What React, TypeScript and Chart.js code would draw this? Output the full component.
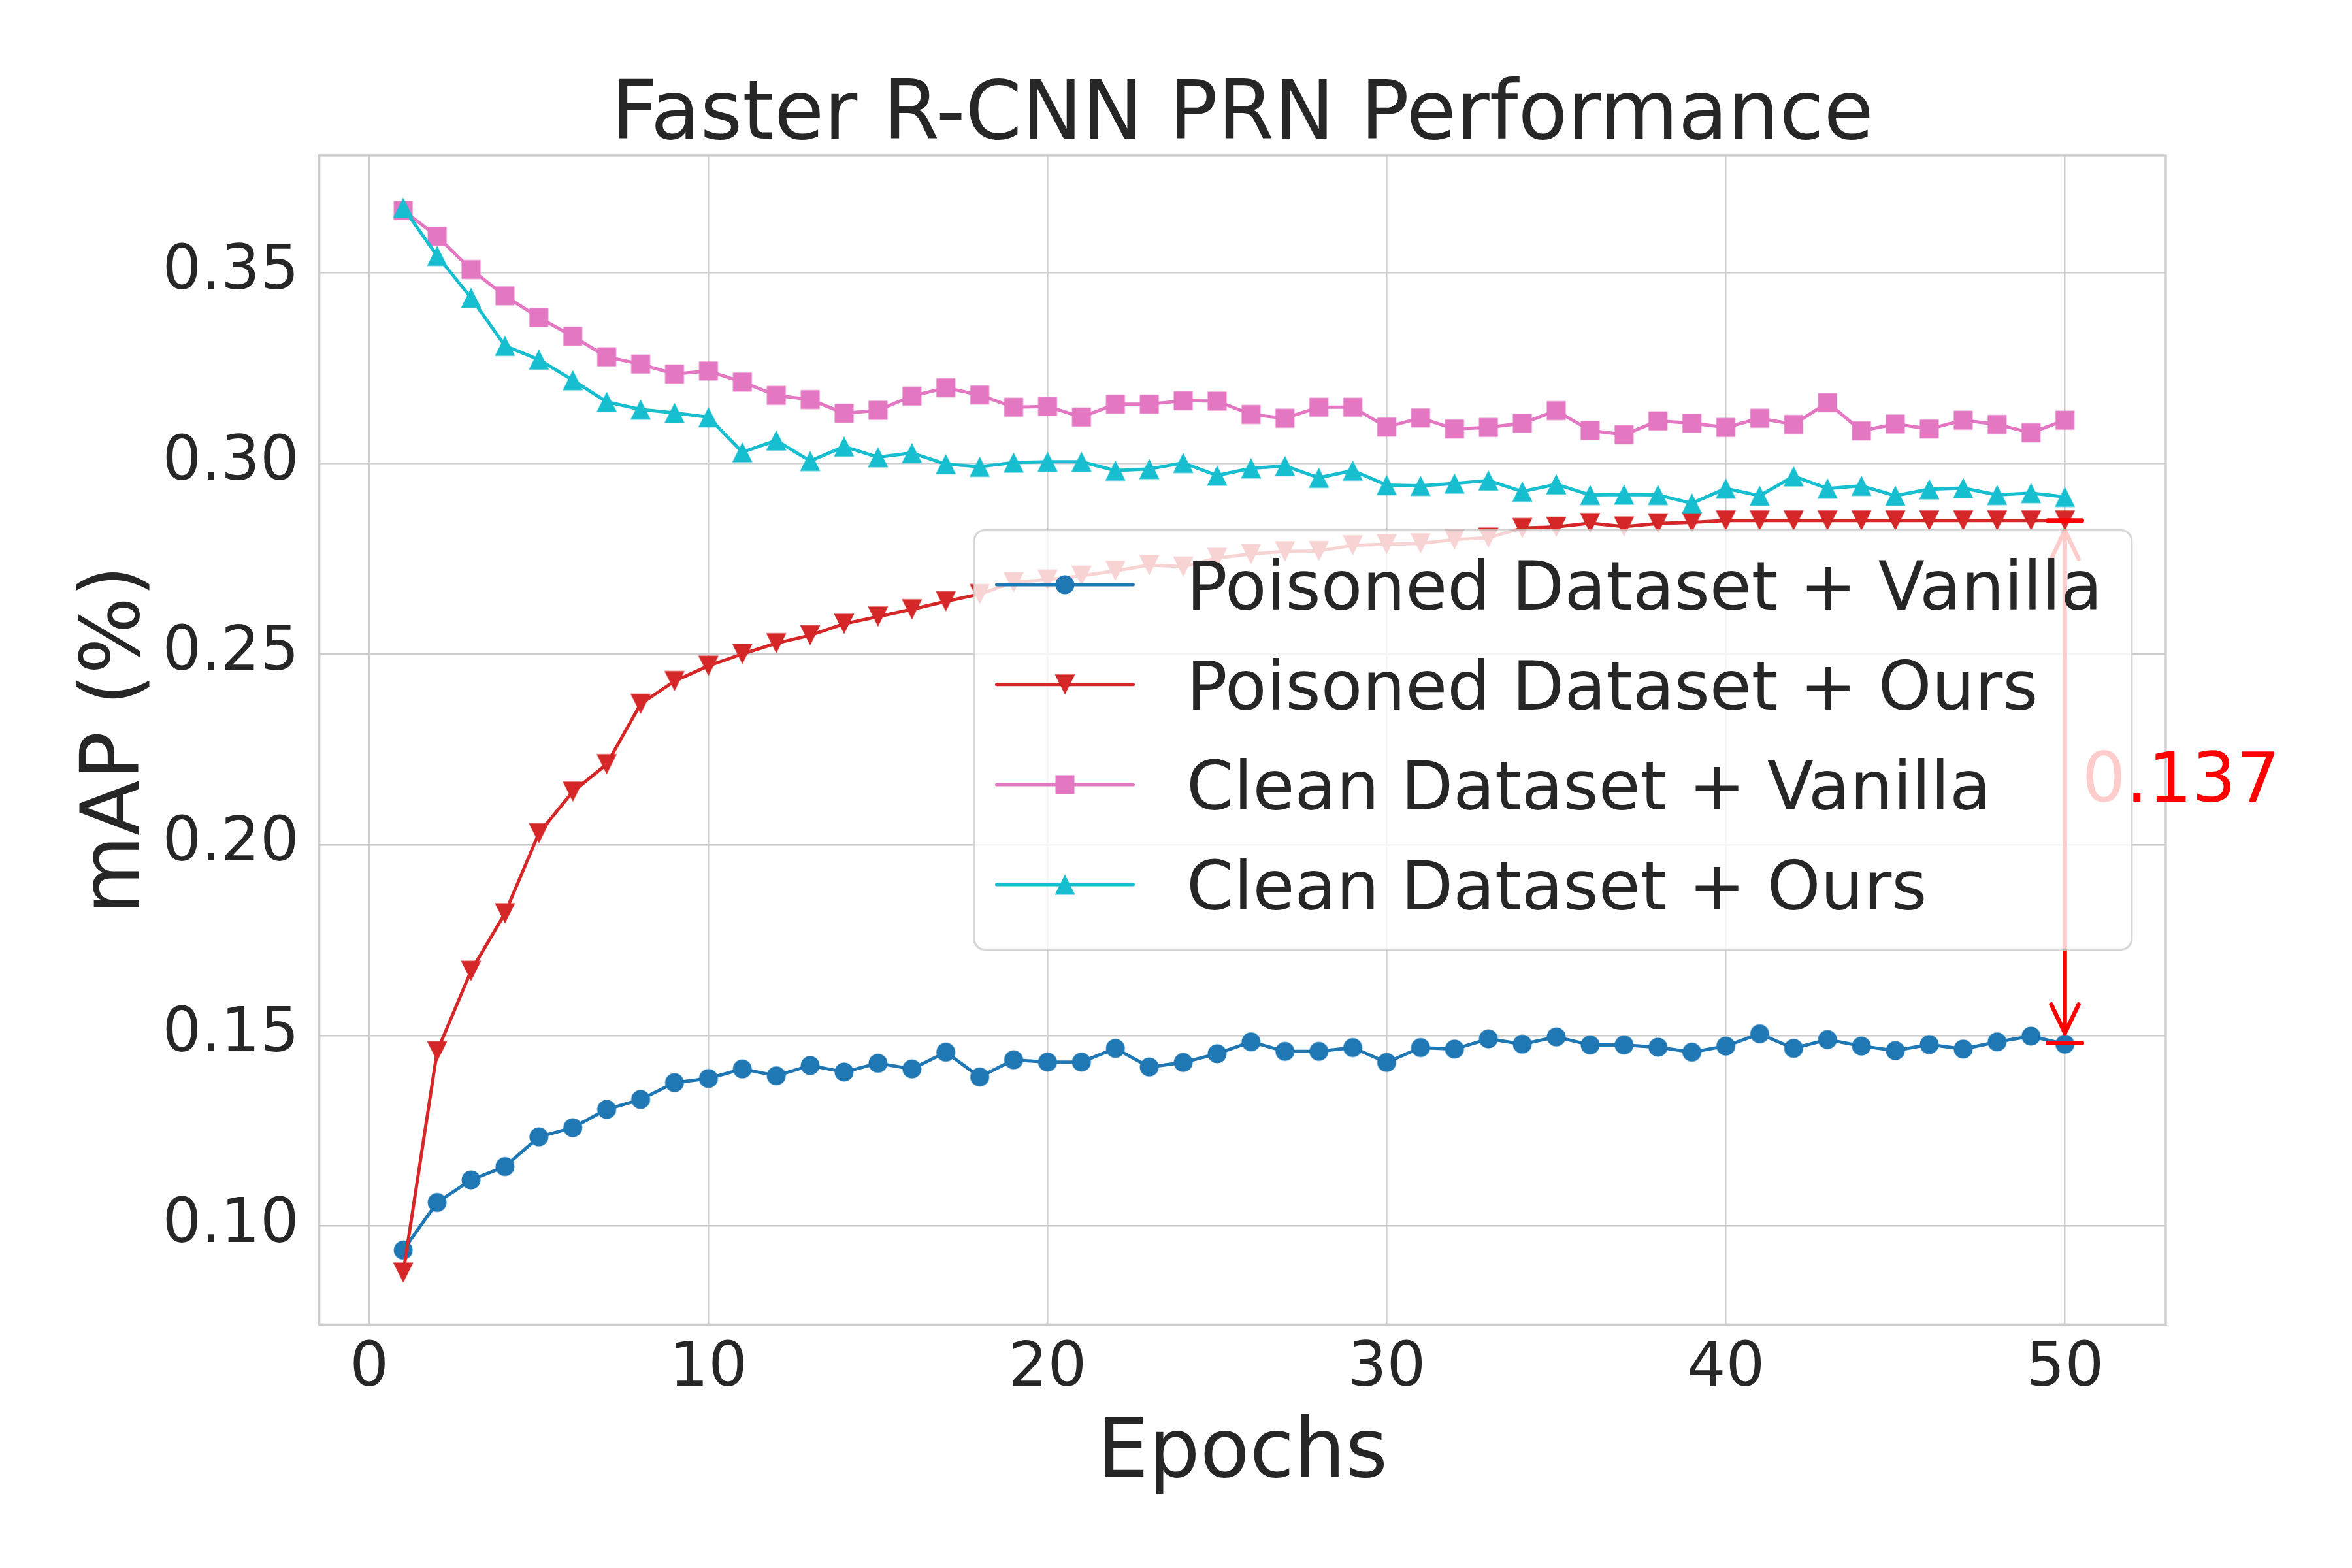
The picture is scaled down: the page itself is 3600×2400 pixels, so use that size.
import React, { useEffect, useRef } from 'react';
import { Chart, registerables } from 'chart.js';

Chart.register(...registerables);

const epochs = [1, 2, 3, 4, 5, 6, 7, 8, 9, 10, 11, 12, 13, 14, 15, 16, 17, 18, 19, 20, 21, 22, 23, 24, 25, 26, 27, 28, 29, 30, 31, 32, 33, 34, 35, 36, 37, 38, 39, 40, 41, 42, 43, 44, 45, 46, 47, 48, 49, 50];

const poisonedVanilla = [0.0937, 0.1062, 0.1121, 0.1156, 0.1234, 0.1258, 0.1306, 0.1332, 0.1376, 0.1387, 0.1412, 0.1394, 0.1421, 0.1404, 0.1427, 0.1412, 0.1456, 0.1391, 0.1436, 0.1430, 0.1430, 0.1466, 0.1417, 0.1429, 0.1452, 0.1483, 0.1458, 0.1458, 0.1468, 0.1429, 0.1468, 0.1464, 0.1491, 0.1477, 0.1496, 0.1475, 0.1475, 0.1469, 0.1456, 0.1472, 0.1504, 0.1466, 0.1489, 0.1472, 0.1460, 0.1476, 0.1464, 0.1483, 0.1498, 0.1477];

const poisonedOurs = [0.0878, 0.1458, 0.1669, 0.1820, 0.2030, 0.2139, 0.2211, 0.2369, 0.2429, 0.2469, 0.2500, 0.2528, 0.2549, 0.2579, 0.2598, 0.2617, 0.2638, 0.2657, 0.2688, 0.2695, 0.2705, 0.2718, 0.2733, 0.2729, 0.2752, 0.2762, 0.2769, 0.2770, 0.2785, 0.2788, 0.2790, 0.2800, 0.2805, 0.2830, 0.2833, 0.2843, 0.2834, 0.2842, 0.2845, 0.2850, 0.2850, 0.2850, 0.2850, 0.2850, 0.2850, 0.2850, 0.2850, 0.2850, 0.2850, 0.2850];

const cleanVanilla = [0.3663, 0.3595, 0.3508, 0.3439, 0.3382, 0.3333, 0.3279, 0.3260, 0.3234, 0.3242, 0.3213, 0.3178, 0.3167, 0.3131, 0.3139, 0.3176, 0.3198, 0.3179, 0.3147, 0.3149, 0.3121, 0.3155, 0.3155, 0.3164, 0.3163, 0.3128, 0.3118, 0.3147, 0.3147, 0.3095, 0.3119, 0.3090, 0.3094, 0.3105, 0.3138, 0.3086, 0.3075, 0.3111, 0.3105, 0.3094, 0.3118, 0.3102, 0.3159, 0.3085, 0.3103, 0.3090, 0.3113, 0.3102, 0.3080, 0.3113];

const cleanOurs = [0.3670, 0.3544, 0.3434, 0.3308, 0.3272, 0.3218, 0.3161, 0.3141, 0.3132, 0.3121, 0.3029, 0.3060, 0.3006, 0.3044, 0.3016, 0.3027, 0.2998, 0.2991, 0.3002, 0.3004, 0.3004, 0.2981, 0.2985, 0.3001, 0.2968, 0.2987, 0.2993, 0.2962, 0.2981, 0.2943, 0.2941, 0.2947, 0.2955, 0.2926, 0.2945, 0.2917, 0.2918, 0.2917, 0.2895, 0.2934, 0.2915, 0.2966, 0.2934, 0.2941, 0.2915, 0.2932, 0.2935, 0.2917, 0.2922, 0.2912];

const seriesLabels = ['Poisoned Dataset + Vanilla', 'Poisoned Dataset + Ours', 'Clean Dataset + Vanilla', 'Clean Dataset + Ours'];
const seriesColors = ['#1f77b4', '#d62728', '#e377c2', '#17becf'];
const seriesMarkers = ['circle', 'down', 'square', 'up'];

const xTicks = [0, 10, 20, 30, 40, 50];
const yTicks = [0.1, 0.15, 0.2, 0.25, 0.3, 0.35];

const gapEpoch = 50;
const gapTop = 0.285;
const gapBottom = 0.148;
const gapLabel = '0.137';

const titleText = 'Faster R-CNN PRN Performance';
const xTitle = 'Epochs';
const yTitle = 'mAP (%)';

const FONT = '"DejaVu Sans"';
const TEXT = '#262626';

function makeMarker(shape: string, color: string): HTMLCanvasElement {
  const size = shape === 'up' || shape === 'down' ? 31 : 29;
  const c = document.createElement('canvas');
  const s = 34;
  c.width = s;
  c.height = s;
  const g = c.getContext('2d')!;
  g.fillStyle = color;
  const m = s / 2;
  const h = size / 2;
  g.beginPath();
  if (shape === 'circle') g.arc(m, m, h, 0, Math.PI * 2);
  else if (shape === 'square') g.rect(m - h, m - h, size, size);
  else if (shape === 'up') {
    g.moveTo(m, m - h);
    g.lineTo(m + h, m + h);
    g.lineTo(m - h, m + h);
    g.closePath();
  } else {
    g.moveTo(m, m + h);
    g.lineTo(m + h, m - h);
    g.lineTo(m - h, m - h);
    g.closePath();
  }
  g.fill();
  return c;
}

export default function App() {
  const ref = useRef<HTMLCanvasElement>(null);

  useEffect(() => {
    document.body.style.margin = '0';
    const markers = seriesMarkers.map((s, i) => makeMarker(s, seriesColors[i]));
    const seriesValues = [poisonedVanilla, poisonedOurs, cleanVanilla, cleanOurs];

    const overlay = {
      id: 'overlay',
      beforeDatasetsDraw(chart: any) {
        const { ctx, chartArea: a } = chart;
        ctx.save();
        ctx.strokeStyle = '#cccccc';
        ctx.lineWidth = 3.3;
        ctx.strokeRect(a.left, a.top, a.right - a.left, a.bottom - a.top);
        ctx.restore();
      },
      afterDatasetsDraw(chart: any) {
        const { ctx } = chart;
        const xs = chart.scales.x;
        const ys = chart.scales.y;
        ctx.save();
        ctx.strokeStyle = '#ff0000';
        ctx.lineCap = 'round';
        ctx.lineJoin = 'round';
        ctx.lineWidth = 7;
        [gapTop, gapBottom].forEach((v) => {
          const y = ys.getPixelForValue(v);
          ctx.beginPath();
          ctx.moveTo(xs.getPixelForValue(gapEpoch - 0.5), y);
          ctx.lineTo(xs.getPixelForValue(gapEpoch + 0.5), y);
          ctx.stroke();
        });
        const x = xs.getPixelForValue(gapEpoch);
        const y1 = ys.getPixelForValue(gapTop) + 15;
        const y2 = ys.getPixelForValue(gapBottom) - 15;
        ctx.lineWidth = 6.5;
        ctx.beginPath();
        ctx.moveTo(x, y1);
        ctx.lineTo(x, y2);
        ctx.stroke();
        ctx.beginPath();
        ctx.moveTo(x - 21, y1 + 44);
        ctx.lineTo(x, y1);
        ctx.lineTo(x + 21, y1 + 44);
        ctx.stroke();
        ctx.beginPath();
        ctx.moveTo(x - 21, y2 - 44);
        ctx.lineTo(x, y2);
        ctx.lineTo(x + 21, y2 - 44);
        ctx.stroke();
        ctx.fillStyle = '#ff0000';
        ctx.font = `106px ${FONT}`;
        ctx.textAlign = 'left';
        ctx.textBaseline = 'alphabetic';
        ctx.fillText(gapLabel, xs.getPixelForValue(gapEpoch + 0.5), ys.getPixelForValue((gapTop + gapBottom) / 2) + 30);

        const lx = 1491, ly = 811.7, lw = 3262.7 - 1491, lh = 1453.3 - 811.7, r = 16;
        ctx.beginPath();
        ctx.moveTo(lx + r, ly);
        ctx.lineTo(lx + lw - r, ly);
        ctx.arcTo(lx + lw, ly, lx + lw, ly + r, r);
        ctx.lineTo(lx + lw, ly + lh - r);
        ctx.arcTo(lx + lw, ly + lh, lx + lw - r, ly + lh, r);
        ctx.lineTo(lx + r, ly + lh);
        ctx.arcTo(lx, ly + lh, lx, ly + lh - r, r);
        ctx.lineTo(lx, ly + r);
        ctx.arcTo(lx, ly, lx + r, ly, r);
        ctx.closePath();
        ctx.fillStyle = 'rgba(255,255,255,0.8)';
        ctx.fill();
        ctx.strokeStyle = 'rgba(204,204,204,0.8)';
        ctx.lineWidth = 3.3;
        ctx.stroke();

        const rows = [895, 1047.7, 1201, 1354];
        seriesLabels.forEach((label, i) => {
          const y = rows[i];
          ctx.strokeStyle = seriesColors[i];
          ctx.lineWidth = 5;
          ctx.lineCap = 'round';
          ctx.beginPath();
          ctx.moveTo(1525.5, y);
          ctx.lineTo(1734.5, y);
          ctx.stroke();
          const m = markers[i];
          ctx.drawImage(m, 1630 - m.width / 2, y - m.height / 2);
          ctx.fillStyle = TEXT;
          ctx.font = `104px ${FONT}`;
          ctx.textAlign = 'left';
          ctx.textBaseline = 'alphabetic';
          ctx.fillText(label, 1816, y + 38);
        });
        ctx.restore();
      },
      afterDraw(chart: any) {
        const { ctx, chartArea: a } = chart;
        const cx = (a.left + a.right) / 2;
        const cy = (a.top + a.bottom) / 2;
        ctx.save();
        ctx.fillStyle = TEXT;
        ctx.font = `124px ${FONT}`;
        ctx.textAlign = 'center';
        ctx.textBaseline = 'alphabetic';
        ctx.fillText(titleText, cx, 211.7);
        ctx.fillText(xTitle, cx, 2260);
        ctx.translate(211.7, cy);
        ctx.rotate(-Math.PI / 2);
        ctx.fillText(yTitle, 0, 0);
        ctx.restore();
      },
    };

    const orders = [4, 3, 2, 1];
    const chart = new Chart(ref.current!, {
      type: 'line',
      data: {
        datasets: seriesLabels.map((label, i) => ({
          label,
          data: epochs.map((e, j) => ({ x: e, y: seriesValues[i][j] })),
          borderColor: seriesColors[i],
          backgroundColor: seriesColors[i],
          borderWidth: 5,
          borderCapStyle: 'round',
          borderJoinStyle: 'round',
          tension: 0,
          fill: false,
          pointStyle: markers[i],
          pointRadius: 15,
          pointHoverRadius: 15,
          order: orders[i],
        })),
      },
      options: {
        responsive: false,
        animation: false,
        devicePixelRatio: 1,
        events: [],
        layout: { padding: { left: 0, top: 238, right: 285, bottom: 0 } },
        plugins: {
          legend: { display: false },
          title: { display: false },
          tooltip: { enabled: false },
        },
        scales: {
          x: {
            type: 'linear',
            min: -1.475,
            max: 52.975,
            afterBuildTicks: (s: any) => {
              s.ticks = xTicks.map((v) => ({ value: v }));
            },
            afterFit: (s: any) => {
              s.height = 2400 - 2027.3;
            },
            grid: { color: '#cccccc', lineWidth: 2.5, drawTicks: false },
            border: { display: false },
            ticks: {
              font: { family: 'DejaVu Sans', size: 94 },
              color: TEXT,
              padding: 13,
              maxRotation: 0,
              autoSkip: false,
              callback: (v: any) => String(v),
            },
          },
          y: {
            type: 'linear',
            min: 0.0742,
            max: 0.3807,
            afterBuildTicks: (s: any) => {
              s.ticks = yTicks.map((v) => ({ value: v }));
            },
            afterFit: (s: any) => {
              s.width = 488.7;
            },
            grid: { color: '#cccccc', lineWidth: 2.5, drawTicks: false },
            border: { display: false },
            ticks: {
              font: { family: 'DejaVu Sans', size: 94 },
              color: TEXT,
              padding: 31,
              autoSkip: false,
              callback: (v: any) => Number(v).toFixed(2),
            },
          },
        },
      },
      plugins: [overlay],
    } as any);
    return () => chart.destroy();
  }, []);

  return (
    <div style={{ position: 'absolute', left: 0, top: 0, width: 3600, height: 2400, background: '#ffffff' }}>
      <canvas ref={ref} width={3600} height={2400} style={{ width: 3600, height: 2400, display: 'block' }} />
    </div>
  );
}
